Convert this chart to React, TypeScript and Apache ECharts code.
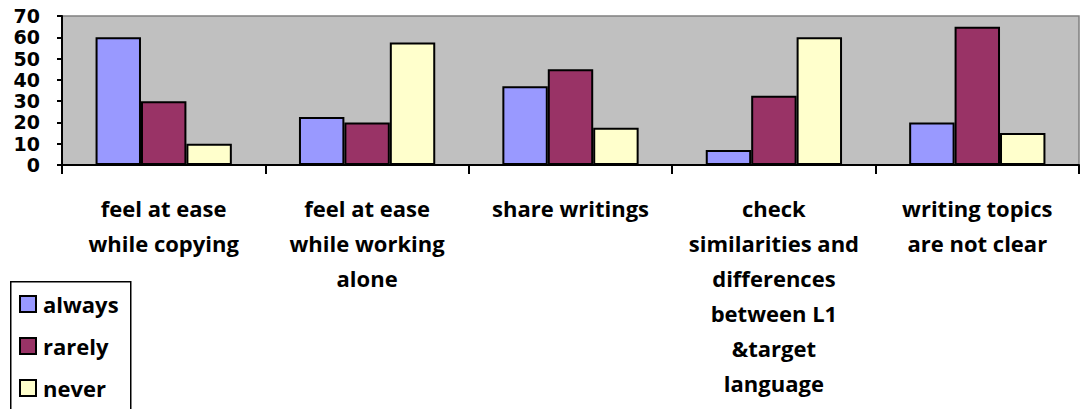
import React, { useEffect, useRef } from "react";
import * as echarts from "echarts";

// Survey categories and response shares (%)
const categories: string[] = [
  "feel at ease\nwhile copying",
  "feel at ease\nwhile working\nalone",
  "share writings",
  "check\nsimilarities and\ndifferences\nbetween L1\n&target\nlanguage",
  "writing topics\nare not clear",
];
const always: number[] = [60, 22.5, 37, 7, 20];
const rarely: number[] = [30, 20, 45, 32.5, 65];
const never: number[] = [10, 57.5, 17.5, 60, 15];
const seriesNames: string[] = ["always", "rarely", "never"];
const seriesColors: string[] = ["#9999FF", "#993366", "#FFFFCC"];

const labelFont = "Open Sans";

export default function App() {
  const ref = useRef<HTMLDivElement>(null);

  useEffect(() => {
    if (!ref.current) return;
    const chart = echarts.init(ref.current, null, { renderer: "svg" });
    const data = [always, rarely, never];
    chart.setOption({
      animation: false,
      backgroundColor: "#FFFFFF",
      grid: {
        left: 62,
        right: 1,
        top: 16,
        bottom: 244,
        show: true,
        backgroundColor: "#C0C0C0",
        borderColor: "#808080",
        borderWidth: 1.5,
      },
      // legend frame (runs past the bottom edge of the canvas)
      graphic: [
        {
          type: "rect",
          left: 10,
          top: 281,
          shape: { width: 120, height: 140 },
          style: { fill: "#FFFFFF", stroke: "#000000", lineWidth: 1.5 },
          z: 5,
        },
      ],
      legend: {
        orient: "vertical",
        left: 19,
        top: 293,
        padding: 0,
        itemGap: 20,
        itemWidth: 16,
        itemHeight: 16,
        icon: "rect",
        z: 10,
        data: seriesNames,
        itemStyle: { borderColor: "#000000", borderWidth: 2 },
        textStyle: {
          fontFamily: labelFont,
          fontWeight: "bold",
          fontSize: 22,
          color: "#000000",
          padding: [0, 0, 0, 2],
        },
      },
      xAxis: {
        type: "category",
        data: categories,
        axisLine: { show: true, lineStyle: { color: "#000000", width: 2 } },
        axisTick: { show: true, length: 9, lineStyle: { color: "#000000", width: 2 } },
        axisLabel: {
          interval: 0,
          margin: 25,
          fontFamily: labelFont,
          fontWeight: "bold",
          fontSize: 22,
          lineHeight: 35,
          color: "#000000",
          align: "center",
          verticalAlign: "top",
        },
      },
      yAxis: {
        type: "value",
        min: 0,
        max: 70,
        interval: 10,
        splitLine: { show: false },
        axisLine: { show: true, lineStyle: { color: "#000000", width: 2 } },
        axisTick: { show: true, length: 5, lineStyle: { color: "#000000", width: 2 } },
        axisLabel: {
          margin: 22,
          fontFamily: "DejaVu Sans",
          fontWeight: "bold",
          fontSize: 19,
          color: "#000000",
        },
      },
      series: seriesNames.map((name, i) => ({
        name,
        type: "bar",
        data: data[i],
        barGap: "0%",
        barCategoryGap: "33%",
        itemStyle: { color: seriesColors[i], borderColor: "#000000", borderWidth: 2 },
      })),
    });
    return () => chart.dispose();
  }, []);

  return (
    <div
      ref={ref}
      style={{ position: "absolute", left: 0, top: 0, width: 1080, height: 409 }}
    />
  );
}
